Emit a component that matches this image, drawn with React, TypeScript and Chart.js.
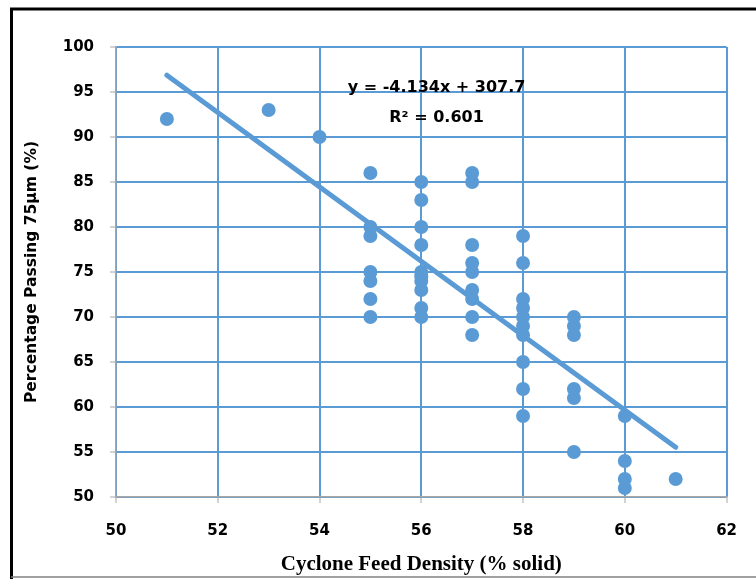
import React, { useEffect, useRef } from "react";
import { Chart, registerables } from "chart.js";

Chart.register(...registerables);

const densityX = [
  51, 53, 54,
  55, 55, 55, 55, 55, 55, 55,
  56, 56, 56, 56, 56, 56, 56, 56, 56, 56,
  57, 57, 57, 57, 57, 57, 57, 57, 57,
  58, 58, 58, 58, 58, 58, 58, 58, 58, 58,
  59, 59, 59, 59, 59, 59,
  60, 60, 60, 60,
  61,
];
const passingY = [
  92, 93, 90,
  86, 80, 79, 75, 74, 72, 70,
  85, 83, 80, 78, 75, 74.5, 74, 73, 71, 70,
  86, 85, 78, 76, 75, 73, 72, 70, 68,
  79, 76, 72, 71, 70, 69, 68, 65, 62, 59,
  70, 69, 68, 62, 61, 55,
  59, 54, 52, 51,
  52,
];
const trendX = [51, 61];
const trendY = [96.87, 55.53];
const equationText = "y = -4.134x + 307.7";
const r2Text = "R² = 0.601";
const xTicks = [50, 52, 54, 56, 58, 60, 62];
const yTicks = [50, 55, 60, 65, 70, 75, 80, 85, 90, 95, 100];

const BLUE = "#5B9BD5";

const framePlugin = {
  id: "frame",
  afterDraw(chart: any) {
    const ctx = chart.ctx;
    ctx.save();
    ctx.strokeStyle = "#000";
    ctx.lineWidth = 3;
    ctx.beginPath();
    ctx.moveTo(11.5, 579);
    ctx.lineTo(11.5, 9);
    ctx.lineTo(756, 9);
    ctx.stroke();
    ctx.strokeStyle = "#808080";
    ctx.lineWidth = 1.5;
    ctx.beginPath();
    ctx.moveTo(11, 577);
    ctx.lineTo(756, 577);
    ctx.stroke();
    ctx.restore();
  },
};

const annotationPlugin = {
  id: "eqnLabel",
  afterDatasetsDraw(chart: any) {
    const ctx = chart.ctx;
    const xs = chart.scales.x;
    const ys = chart.scales.y;
    ctx.save();
    ctx.fillStyle = "#000";
    ctx.font = "bold 16px 'DejaVu Sans'";
    ctx.textAlign = "center";
    ctx.textBaseline = "middle";
    ctx.fillText(equationText, xs.getPixelForValue(56.3), ys.getPixelForValue(95.5));
    ctx.fillText(r2Text, xs.getPixelForValue(56.3), ys.getPixelForValue(92.1));
    ctx.restore();
  },
};

export default function App() {
  const ref = useRef<HTMLCanvasElement>(null);
  useEffect(() => {
    document.body.style.margin = "0";
    const canvas = ref.current!;
    const chart = new Chart(canvas, {
      type: "scatter",
      data: {
        datasets: [
          {
            label: "data",
            data: densityX.map((x, i) => ({ x, y: passingY[i] })),
            backgroundColor: BLUE,
            borderColor: BLUE,
            pointRadius: 7,
            pointHoverRadius: 7,
            borderWidth: 0,
          },
          {
            label: "trend",
            type: "line",
            data: trendX.map((x, i) => ({ x, y: trendY[i] })),
            borderColor: BLUE,
            borderWidth: 5,
            borderCapStyle: "round",
            pointRadius: 0,
            fill: false,
          } as any,
        ],
      },
      options: {
        animation: false,
        responsive: false,
        devicePixelRatio: 1,
        layout: { padding: { top: 47, right: 26, left: 0, bottom: 0 } },
        plugins: { legend: { display: false }, tooltip: { enabled: false } },
        scales: {
          x: {
            type: "linear",
            min: 50,
            max: 62,
            afterBuildTicks: (s: any) => {
              s.ticks = xTicks.map((v) => ({ value: v }));
            },
            afterFit: (s: any) => {
              s.height = 82;
            },
            grid: { color: BLUE, lineWidth: 2, tickColor: "#A6A6A6", tickLength: 6, tickWidth: 1 },
            border: { color: "#A6A6A6", width: 1.5 },
            ticks: {
              color: "#000",
              font: { family: "DejaVu Sans", weight: "bold", size: 15 },
              padding: 19,
            },
            title: {
              display: true,
              text: "Cyclone Feed Density (% solid)",
              color: "#000",
              font: { family: "Liberation Serif", weight: "bold", size: 21 },
              padding: { bottom: 2, top: 0 },
            },
          },
          y: {
            type: "linear",
            min: 50,
            max: 100,
            afterBuildTicks: (s: any) => {
              s.ticks = yTicks.map((v) => ({ value: v }));
            },
            afterFit: (s: any) => {
              s.width = 116;
            },
            grid: { color: BLUE, lineWidth: 2, tickColor: "#A6A6A6", tickLength: 6, tickWidth: 1 },
            border: { color: "#A6A6A6", width: 1.5 },
            ticks: {
              color: "#000",
              font: { family: "DejaVu Sans", weight: "bold", size: 15 },
              padding: 16,
            },
            title: {
              display: true,
              text: "Percentage Passing 75µm (%)",
              color: "#000",
              font: { family: "DejaVu Sans", weight: "bold", size: 15.5 },
              padding: { top: 23, bottom: 0 },
            },
          },
        },
      },
      plugins: [framePlugin, annotationPlugin],
    });
    return () => chart.destroy();
  }, []);
  return <canvas ref={ref} width={756} height={579} style={{ display: "block" }} />;
}
